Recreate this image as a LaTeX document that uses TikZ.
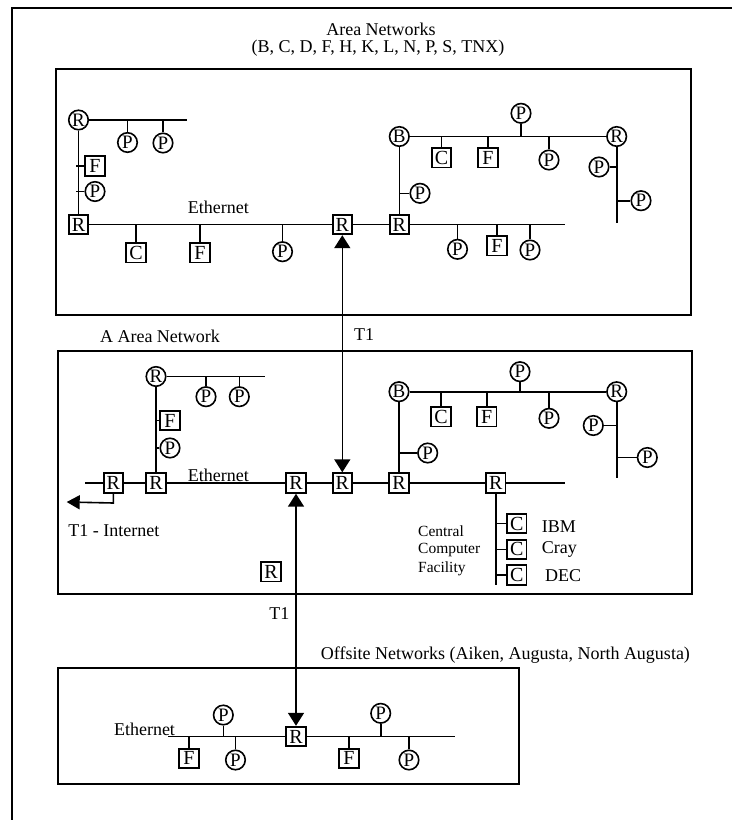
\documentclass[tikz,border=0pt]{standalone}
\usepackage{fontspec}
\setmainfont{Liberation Serif}
\usetikzlibrary{arrows.meta}
\begin{document}
\begin{tikzpicture}[x=1pt,y=-1pt,
  every node/.style={inner sep=0pt},
  box/.style={draw,line width=1.9pt,minimum size=19.5pt,font=\fontsize{20}{20}\selectfont},
  pc/.style={draw,circle,line width=1.6pt,minimum size=19.5pt,font=\fontsize{19}{19}\selectfont},
  wire/.style={line width=1.6pt},
  frame/.style={line width=2pt},
  lbl/.style={font=\fontsize{18}{20}\selectfont},
  small/.style={font=\fontsize{15.5}{19}\selectfont},
  tips/.style={{Triangle[length=13pt,width=16pt]}-{Triangle[length=13pt,width=16pt]}},
  tip/.style={-{Triangle[length=13pt,width=14pt]}}]
\useasboundingbox (0,0) rectangle (732,820);
% outer frame
\draw[frame] (12,820) -- (12,8) -- (732,8);
\node[lbl] (title1) at (381,29) {Area Networks};
\node[lbl] (title2) at (378,48) {(B, C, D, F, H, K, L, N, P, S, TNX)};
% ---------------- top box
\draw[frame] (55.7,69.3) rectangle (690.7,314.5);
\node[pc] (tR1) at (78.5,120) {R};
\coordinate (tE1) at (187,120);
\node[pc] (tP1) at (127.5,142.5) {P};
\node[pc] (tP2) at (163,143) {P};
\node[box] (tF1) at (95,166) {F};
\node[pc] (tP3) at (95,191.5) {P};
\node[box] (tR2) at (78.5,224.5) {R};
\node[lbl,anchor=base] (tEth) at (218.3,213) {Ethernet};
\node[box] (tC1) at (136,252.7) {C};
\node[box] (tF2) at (200,252.7) {F};
\node[pc] (tP4) at (282.5,251.7) {P};
\node[box] (tR3) at (342.3,224.5) {R};
\node[box] (tR4) at (399.3,224.5) {R};
\coordinate (tE2) at (565,224.5);
\node[pc] (tB) at (399.3,136.5) {B};
\node[pc] (tP5) at (420,193.3) {P};
\node[pc] (tR5) at (616.7,136.5) {R};
\node[box] (tC2) at (441.5,157.7) {C};
\node[box] (tF3) at (488,157.7) {F};
\node[pc] (tP6) at (521,113.3) {P};
\node[pc] (tP7) at (549,160) {P};
\coordinate (tE3) at (616.7,222.7);
\node[pc] (tP8) at (599,167) {P};
\node[pc] (tP9) at (641,200.7) {P};
\node[pc] (tP10) at (457.5,249.3) {P};
\node[box] (tF4) at (497,245.7) {F};
\node[pc] (tP11) at (530,250) {P};
\draw[wire] (tR1) -- (tE1);
\draw[wire] (tP1.north) -- (tP1 |- tR1);
\draw[wire] (tP2.north) -- (tP2 |- tR1);
\draw[wire] (tR1) -- (tR2);
\draw[wire] (tF1.west) -- (tF1.west -| tR1) -- ++(-3,0);
\draw[wire] (tP3.west) -- (tP3.west -| tR1) -- ++(-3,0);
\draw[wire] (tR2) -- (tR3) -- (tR4) -- (tE2);
\draw[wire] (tC1.north) -- (tC1 |- tR2);
\draw[wire] (tF2.north) -- (tF2 |- tR2);
\draw[wire] (tP4.north) -- (tP4 |- tR2);
\draw[wire] (tB) -- (tR4);
\draw[wire] (tP5.west) -- (tP5 -| tB);
\draw[wire] (tB) -- (tR5);
\draw[wire] (tC2.north) -- (tC2 |- tB);
\draw[wire] (tF3.north) -- (tF3 |- tB);
\draw[wire] (tP7.north) -- (tP7 |- tB);
\draw[wire] (tP6.south) -- (tP6 |- tB);
\draw[wire] (tR5) -- (tE3);
\draw[wire] (tP8.east) -- (tP8 -| tR5);
\draw[wire] (tP9.west) -- (tP9 -| tR5);
\draw[wire] (tP10.north) -- (tP10 |- tR4);
\draw[wire] (tF4.north) -- (tF4 |- tR4);
\draw[wire] (tP11.north) -- (tP11 |- tR4);
% ---------------- middle box
\node[lbl] (aan) at (160,336.7) {A Area Network};
\node[lbl] (t1a) at (364,335) {T1};
\draw[frame] (58.3,350.5) rectangle (691.7,594.3);
\node[pc] (mR1) at (156,376.5) {R};
\coordinate (mE1) at (265,376.5);
\node[pc] (mP1) at (206,396.7) {P};
\node[pc] (mP2) at (239.3,396.7) {P};
\node[box] (mF1) at (170,420.5) {F};
\node[pc] (mP3) at (170,448) {P};
\coordinate (mE0) at (85,483);
\node[box] (mR2) at (113.3,483) {R};
\node[box] (mR3) at (156,483) {R};
\node[box] (mR4) at (296,483) {R};
\node[box] (mR5) at (342.3,483) {R};
\node[box] (mR6) at (399,483) {R};
\node[box] (mR7) at (495.7,483) {R};
\coordinate (mE2) at (565,483);
\node[lbl,anchor=base] (mEth) at (218.3,481) {Ethernet};
\coordinate (mA) at (113.3,503);
\coordinate (mI) at (66.7,502);
\node[lbl] (t1i) at (113.8,530.7) {T1 - Internet};
\node[box] (mR8) at (271,571.7) {R};
\node[pc] (mB) at (399,391.7) {B};
\node[pc] (mR9) at (616.7,391.7) {R};
\node[box] (mC1) at (441,416.7) {C};
\node[box] (mF2) at (486.7,416.7) {F};
\node[pc] (mP4) at (520,371.7) {P};
\node[pc] (mP5) at (549,418.3) {P};
\coordinate (mE3) at (616.7,478.3);
\node[pc] (mP6) at (593.3,425.5) {P};
\node[pc] (mP7) at (647.3,457.5) {P};
\node[pc] (mP8) at (427.7,453) {P};
\coordinate (mE4) at (495.7,585);
\node[box] (mC2) at (516.7,523.5) {C};
\node[box] (mC3) at (516.7,549.3) {C};
\node[box] (mC4) at (516.7,575) {C};
\node[lbl,anchor=west] (ibm) at (541.7,526.7) {IBM};
\node[lbl,anchor=west] (cray) at (541.7,549.3) {Cray};
\node[lbl,anchor=west] (dec) at (545,576) {DEC};
\node[small,anchor=west] (ccf1) at (418,530.7) {Central};
\node[small,anchor=west] (ccf2) at (418,550) {Computer};
\node[small,anchor=west] (ccf3) at (418,568.5) {Facility};
\draw[wire] (mR1) -- (mE1);
\draw[wire] (mP1.north) -- (mP1 |- mR1);
\draw[wire] (mP2.north) -- (mP2 |- mR1);
\draw[wire] (mR1) -- (mR3);
\draw[wire] (mF1.west) -- (mF1.west -| mR1);
\draw[wire] (mP3.west) -- (mP3.west -| mR1);
\draw[wire] (mE0) -- (mR2) -- (mR3) -- (mR4) -- (mR5) -- (mR6) -- (mR7) -- (mE2);
\draw[wire,tip] (mR2) -- (mA) -- (mI);
\draw[wire] (mB) -- (mR9);
\draw[wire] (mC1.north) -- (mC1 |- mB);
\draw[wire] (mF2.north) -- (mF2 |- mB);
\draw[wire] (mP5.north) -- (mP5 |- mB);
\draw[wire] (mP4.south) -- (mP4 |- mB);
\draw[wire] (mR9) -- (mE3);
\draw[wire] (mP6.east) -- (mP6 -| mR9);
\draw[wire] (mP7.west) -- (mP7 -| mR9);
\draw[wire] (mB) -- (mR6);
\draw[wire] (mP8.west) -- (mP8 -| mB);
\draw[wire] (mR7) -- (mE4);
\draw[wire] (mC2.west) -- (mC2 -| mR7);
\draw[wire] (mC3.west) -- (mC3 -| mR7);
\draw[wire] (mC4.west) -- (mC4 -| mR7);
\draw[wire,tips] (tR3) -- (mR5);
% ---------------- bottom box
\node[lbl] (t1b) at (279.3,613.3) {T1};
\node[lbl,anchor=west] (off) at (320.7,655) {Offsite Networks (Aiken, Augusta, North Augusta)};
\draw[frame] (58.3,668.3) rectangle (519,784);
\node[box] (bR) at (296,736.5) {R};
\coordinate (bE1) at (168.3,736.5);
\coordinate (bE2) at (455,736.5);
\node[lbl,anchor=base] (bEth) at (144.5,735.5) {Ethernet};
\node[box] (bF1) at (189,758.3) {F};
\node[pc] (bP1) at (223.3,715) {P};
\node[pc] (bP2) at (235.5,760) {P};
\node[box] (bF2) at (349,758.3) {F};
\node[pc] (bP3) at (380.7,713.3) {P};
\node[pc] (bP4) at (409,760) {P};
\draw[wire] (bE1) -- (bR) -- (bE2);
\draw[wire] (bF1.north) -- (bF1 |- bR);
\draw[wire] (bP2.north) -- (bP2 |- bR);
\draw[wire] (bF2.north) -- (bF2 |- bR);
\draw[wire] (bP4.north) -- (bP4 |- bR);
\draw[wire] (bP1.south) -- (bP1 |- bR);
\draw[wire] (bP3.south) -- (bP3 |- bR);
\draw[wire,tips] (mR4) -- (bR);
\end{tikzpicture}
\end{document}
